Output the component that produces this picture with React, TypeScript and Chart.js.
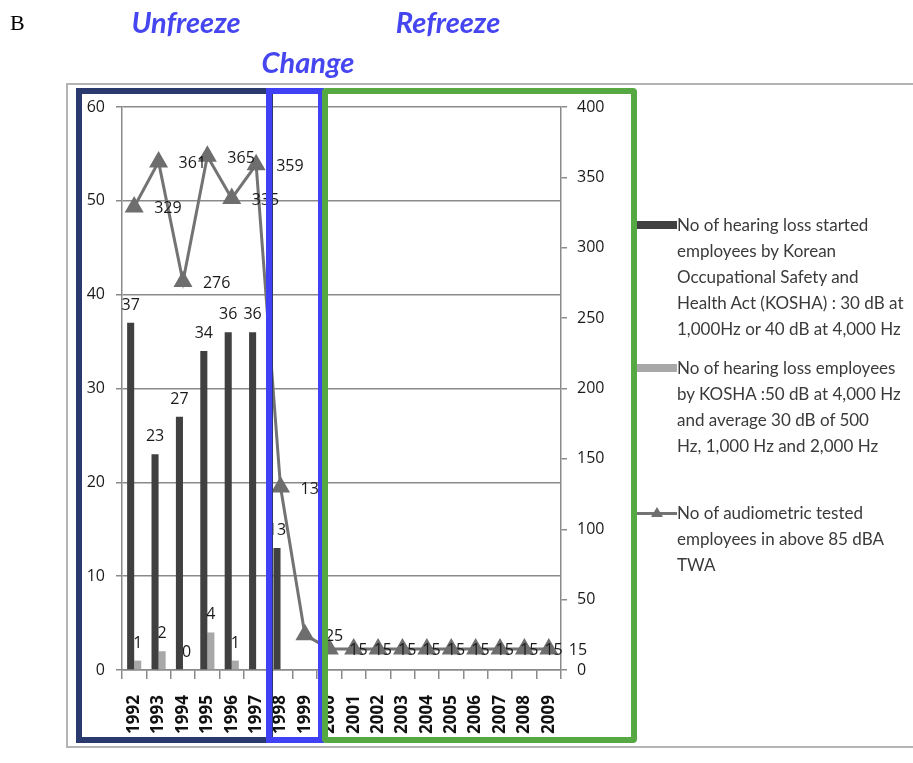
import React, { useEffect, useRef } from 'react';
import { Chart, registerables } from 'chart.js';

Chart.register(...registerables);

const FONT = 'Lato, "Open Sans", sans-serif';
const NUM_FONT = '"Open Sans", Lato, sans-serif';

// ---- data ----
const years = ['1992', '1993', '1994', '1995', '1996', '1997', '1998', '1999', '2000', '2001', '2002', '2003', '2004', '2005', '2006', '2007', '2008', '2009'];
const startedLoss = [37, 23, 27, 34, 36, 36, 13, null, null, null, null, null, null, null, null, null, null, null];
const severeLoss = [1, 2, 0, 4, 1, null, null, null, null, null, null, null, null, null, null, null, null, null];
const testedEmployees = [329, 361, 276, 365, 335, 359, 130, 25, 15, 15, 15, 15, 15, 15, 15, 15, 15, 15];

const seriesNames = [
  'No of hearing loss started employees by Korean Occupational Safety and Health Act (KOSHA) : 30 dB at 1,000Hz or 40 dB at 4,000 Hz',
  'No of hearing loss employees by KOSHA :50 dB at 4,000 Hz and average 30 dB of 500 Hz, 1,000 Hz and 2,000 Hz',
  'No of audiometric tested employees in above 85 dBA TWA',
];
const legendLines1 = ['No of hearing loss started', 'employees by Korean', 'Occupational Safety and', 'Health Act (KOSHA) : 30 dB at', '1,000Hz or 40 dB at 4,000 Hz'];
const legendLines2 = ['No of hearing  loss employees', 'by KOSHA :50 dB at 4,000 Hz', 'and average 30 dB of 500', 'Hz, 1,000 Hz and 2,000 Hz'];
const legendLines3 = ['No of audiometric tested', 'employees in  above 85 dBA', 'TWA'];

const phaseNames = ['Unfreeze', 'Change', 'Refreeze'];

const GRID = '#8a8a8a';

const valueLabels = {
  id: 'valueLabels',
  afterDatasetsDraw(chart: any) {
    const ctx = chart.ctx;
    ctx.save();
    ctx.font = `16px ${NUM_FONT}`;
    ctx.fillStyle = '#1a1a1a';
    chart.data.datasets.forEach((ds: any, i: number) => {
      const meta = chart.getDatasetMeta(i);
      meta.data.forEach((el: any, j: number) => {
        const v = ds.data[j];
        if (v == null) return;
        if (ds.type === 'line') {
          ctx.textAlign = 'left';
          ctx.textBaseline = 'middle';
          ctx.fillText(String(v), el.x + 20, el.y + 2);
        } else {
          ctx.textAlign = 'center';
          ctx.textBaseline = 'alphabetic';
          ctx.fillText(String(v), el.x, el.y - 13);
        }
      });
    });
    ctx.restore();
  },
};

function ChartCanvas() {
  const ref = useRef<HTMLCanvasElement | null>(null);
  useEffect(() => {
    if (!ref.current) return;
    const chart = new Chart(ref.current, {
      type: 'bar',
      data: {
        labels: years,
        datasets: [
          {
            type: 'line',
            label: seriesNames[2],
            data: testedEmployees,
            yAxisID: 'y1',
            borderColor: '#737373',
            backgroundColor: '#6e6e6e',
            borderWidth: 3,
            pointStyle: 'triangle',
            pointRadius: 8,
            pointBackgroundColor: '#6e6e6e',
            pointBorderColor: '#6e6e6e',
            tension: 0,
            order: 0,
          } as any,
          {
            type: 'bar',
            label: seriesNames[0],
            data: startedLoss,
            yAxisID: 'y',
            backgroundColor: '#404040',
            categoryPercentage: 0.58,
            barPercentage: 1.0,
            order: 1,
          } as any,
          {
            type: 'bar',
            label: seriesNames[1],
            data: severeLoss,
            yAxisID: 'y',
            backgroundColor: '#a8a8a8',
            categoryPercentage: 0.58,
            barPercentage: 1.0,
            order: 1,
          } as any,
        ],
      },
      options: {
        animation: false,
        responsive: true,
        maintainAspectRatio: false,
        layout: { padding: { left: 66, right: 302, top: 107, bottom: 13 } },
        plugins: { legend: { display: false }, tooltip: { enabled: false }, title: { display: false } },
        scales: {
          x: {
            offset: true,
            grid: { drawOnChartArea: false, offset: true, color: GRID, lineWidth: 1.5, tickLength: 9 },
            border: { color: GRID, width: 1.5 },
            ticks: {
              minRotation: 90,
              maxRotation: 90,
              autoSkip: false,
              padding: 16,
              color: '#111',
              font: { family: NUM_FONT, size: 17, weight: 'bold' },
            },
            afterFit: (s: any) => { s.height = 80; },
          },
          y: {
            position: 'left',
            min: 0,
            max: 60,
            ticks: { stepSize: 10, padding: 11, color: '#1a1a1a', font: { family: NUM_FONT, size: 16 } },
            grid: { color: GRID, lineWidth: 1.5, tickLength: 6 },
            border: { color: GRID, width: 1.5 },
            afterFit: (s: any) => { s.width = 56; },
          },
          y1: {
            position: 'right',
            min: 0,
            max: 400,
            ticks: { stepSize: 50, padding: 10, color: '#1a1a1a', font: { family: NUM_FONT, size: 16 } },
            grid: { drawOnChartArea: false, color: GRID, lineWidth: 1.5, tickLength: 6 },
            border: { color: GRID, width: 1.5 },
            afterFit: (s: any) => { s.width = 50; },
          },
        },
      } as any,
      plugins: [valueLabels],
    });
    return () => chart.destroy();
  }, []);
  return <canvas ref={ref} />;
}

const abs = (o: React.CSSProperties): React.CSSProperties => ({ position: 'absolute', ...o });

const titleStyle: React.CSSProperties = {
  position: 'absolute',
  fontFamily: FONT,
  fontWeight: 'bold',
  fontStyle: 'italic',
  fontSize: 29,
  color: '#4646f0',
  whiteSpace: 'nowrap',
  transform: 'translate(-50%, -50%)',
  lineHeight: 1,
};

const legendText: React.CSSProperties = {
  position: 'absolute',
  left: 677,
  fontFamily: FONT,
  fontSize: 17,
  lineHeight: '26px',
  color: '#3a3a3a',
  whiteSpace: 'nowrap',
};

export default function App() {
  return (
    <div style={abs({ left: 0, top: 0, width: 913, height: 763, background: '#fff', overflow: 'hidden' })}>
      {/* outer frame */}
      <div style={abs({ left: 66, top: 83, width: 900, height: 665, border: '2px solid #b4b4b4', boxSizing: 'border-box' })} />
      <div style={abs({ left: 0, top: 0, width: 913, height: 763 })}>
        <ChartCanvas />
      </div>
      {/* phase boxes */}
      <div style={abs({ left: 76, top: 88, width: 197, height: 655, border: '6px solid #2b3a6e', boxSizing: 'border-box' })} />
      <div style={abs({ left: 266, top: 88, width: 58, height: 655, border: '6px solid #4040f5', boxSizing: 'border-box' })} />
      <div style={abs({ left: 322, top: 88, width: 315, height: 655, border: '6px solid #55a842', borderRadius: 4, boxSizing: 'border-box' })} />
      {/* titles */}
      <div style={abs({ left: 10, top: 12, fontFamily: '"Liberation Serif", serif', fontSize: 22, color: '#000', lineHeight: 1 })}>B</div>
      <div style={{ ...titleStyle, left: 186, top: 21 }}>{phaseNames[0]}</div>
      <div style={{ ...titleStyle, left: 308, top: 61 }}>{phaseNames[1]}</div>
      <div style={{ ...titleStyle, left: 448, top: 21 }}>{phaseNames[2]}</div>
      {/* legend */}
      <div style={abs({ left: 637, top: 221, width: 40, height: 8, background: '#404040' })} />
      <div style={{ ...legendText, top: 212 }}>
        {legendLines1.map((t, i) => <div key={i}>{t}</div>)}
      </div>
      <div style={abs({ left: 637, top: 364, width: 40, height: 8, background: '#a8a8a8' })} />
      <div style={{ ...legendText, top: 355 }}>
        {legendLines2.map((t, i) => <div key={i}>{t}</div>)}
      </div>
      <div style={abs({ left: 637, top: 512, width: 40, height: 2.5, background: '#737373' })} />
      <div style={abs({ left: 651, top: 507, width: 12, height: 10, background: '#6e6e6e', clipPath: 'polygon(50% 0, 100% 100%, 0 100%)' })} />
      <div style={{ ...legendText, top: 500 }}>
        {legendLines3.map((t, i) => <div key={i}>{t}</div>)}
      </div>
    </div>
  );
}
